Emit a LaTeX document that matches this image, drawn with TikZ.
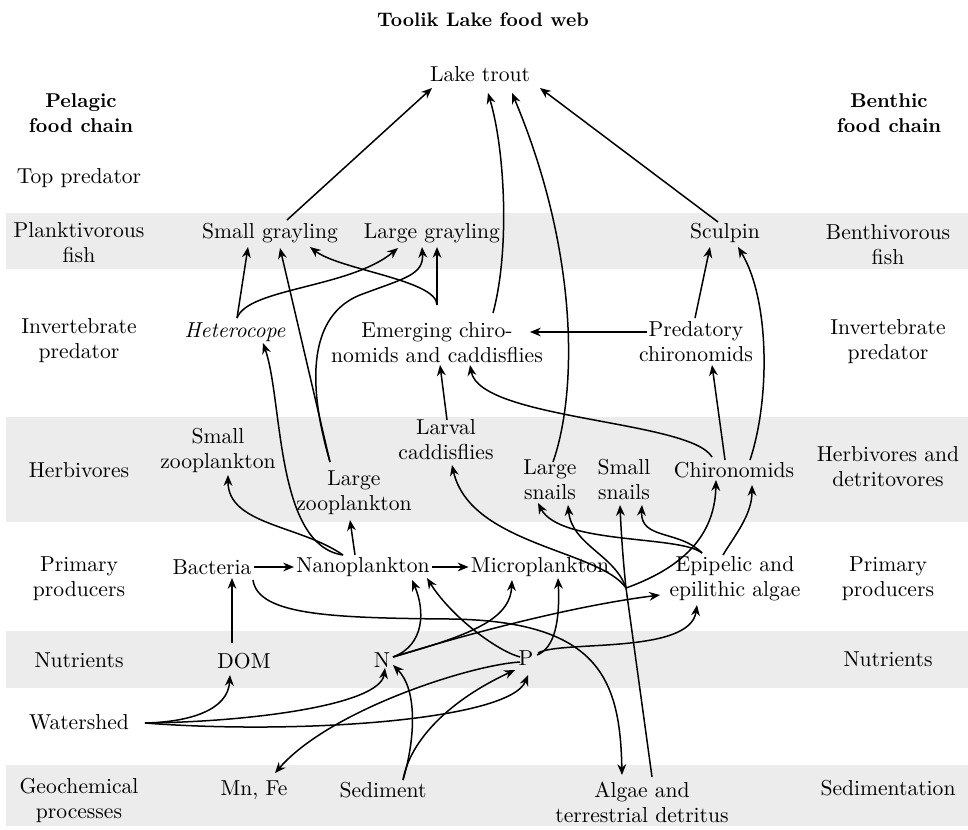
\documentclass[tikz,border=0pt]{standalone}
\usetikzlibrary{arrows.meta,calc}
\definecolor{bandgray}{HTML}{ECECEC}

\begin{document}
\begin{tikzpicture}[x=0.5pt,y=-0.5pt,
  txt/.style={font=\fontsize{10.8}{12.5}\selectfont,align=center,inner sep=1pt},
  head/.style={txt,font=\fontsize{10}{12.5}\selectfont\bfseries},
  arr/.style={line width=0.75pt,-{Stealth[length=5.4pt,width=4.4pt]}},
  trunk/.style={line width=0.75pt}]

	\useasboundingbox (0,0) rectangle (968,829);

	% Bands
	\fill[bandgray] (6,213) rectangle (968,269);
	\fill[bandgray] (6,417) rectangle (968,522);
	\fill[bandgray] (6,631) rectangle (968,688);
	\fill[bandgray] (6,765) rectangle (968,826);

	% Title
	\node[head,font=\fontsize{9.8}{12}\selectfont\bfseries] (title) at (483,20) {Toolik Lake food web};

	% Row labels
	% left
	\node[head] (pelagic) at (81,113) {Pelagic\\food chain};
	\node[txt] (topL) at (79,178) {Top predator};
	\node[txt] (plankL) at (79,243) {Planktivorous\\fish};
	\node[txt] (invL) at (79,341) {Invertebrate\\predator};
	\node[txt] (herbL) at (79,470) {Herbivores};
	\node[txt] (primL) at (79,579) {Primary\\producers};
	\node[txt] (nutL) at (79,660) {Nutrients};
	\node[txt] (water) at (79,722) {Watershed};
	\node[txt] (geoL) at (79,800) {Geochemical\\processes};
	% right
	\node[head] (benthic) at (889,113) {Benthic\\food chain};
	\node[txt] (benthR) at (888,245) {Benthivorous\\fish};
	\node[txt] (invR) at (888,342) {Invertebrate\\predator};
	\node[txt] (herbR) at (888,467) {Herbivores and\\detritovores};
	\node[txt] (primR) at (888,579) {Primary\\producers};
	\node[txt] (nutR) at (888,659) {Nutrients};
	\node[txt] (sedR) at (888,788) {Sedimentation};

	% Species
	\node[txt] (trout) at (480,74) {Lake trout};
	\node[txt] (sgray) at (270,233) {Small grayling};
	\node[txt] (lgray) at (432,233) {Large grayling};
	\node[txt] (sculpin) at (725,233) {Sculpin};
	\node[txt,font=\fontsize{10.8}{12.5}\selectfont\itshape] (hetero) at (235,332) {Heterocope};
	\node[txt] (emerg) at (437,343) {Emerging chiro-\\nomids and caddisflies};
	\node[txt] (predch) at (696,342) {Predatory\\chironomids};
	\node[txt] (szoo) at (218,450) {Small\\zooplankton};
	\node[txt] (lzoo) at (354,493) {Large\\zooplankton};
	\node[txt] (larval) at (446,440) {Larval\\caddisflies};
	\node[txt] (lsnail) at (550,480) {Large\\snails};
	\node[txt] (ssnail) at (624,479) {Small\\snails};
	\node[txt] (chiro) at (734,470) {Chironomids};
	\node[txt] (bact) at (212,567) {Bacteria};
	\node[txt] (nano) at (363,567) {Nanoplankton};
	\node[txt] (micro) at (540,567) {Microplankton};
	\node[txt] (epi) at (735,579) {Epipelic and\\epilithic algae};
	\node[txt] (dom) at (244,661) {DOM};
	\node[txt] (N) at (382,660) {N};
	\node[txt] (P) at (526,658) {P};
	\node[txt] (mnfe) at (254,790) {Mn, Fe};
	\node[txt] (sedim) at (383,790) {Sediment};
	\node[txt] (algae) at (642,802) {Algae and\\terrestrial detritus};
	\coordinate (junc) at (626,588);

	% Fish to lake trout
	\draw[arr] ($(sgray)+(17,-13)$) -- ($(trout)+(-48,14)$);
	\draw[arr] ($(emerg)+(56,-30)$) .. controls (510,250) and (505,150) .. ($(trout)+(8,19)$);
	\draw[arr] ($(lsnail)+(3,-18)$) .. controls (578,390) and (578,250) .. ($(trout)+(32,19)$);
	\draw[arr] ($(sculpin)+(-7,-11)$) -- ($(trout)+(60,14)$);

	% Invertebrates to fish
	\draw[arr] ($(hetero)+(2,-14)$) -- ($(sgray)+(-22,14)$);
	\draw[arr] ($(hetero)+(2,-14)$) .. controls (248,288) and (350,288) .. ($(lgray)+(-34,15)$);
	\draw[arr] ($(lzoo)+(-24,-31)$) -- ($(sgray)+(10,15)$);
	\draw[arr] ($(lzoo)+(-24,-31)$) .. controls (306,380) and (310,315) .. (360,295)
		.. controls (405,278) and (424,275) .. ($(lgray)+(-10,14)$);
	\draw[arr] ($(emerg)+(0,-38)$) .. controls (437,280) and (340,270) .. ($(sgray)+(40,14)$);
	\draw[arr] ($(emerg)+(0,-38)$) -- ($(lgray)+(5,14)$);
	\draw[arr] ($(predch)+(-1,-24)$) -- ($(sculpin)+(-15,14)$);
	\draw[arr] ($(chiro)+(16,-10)$) .. controls (770,400) and (770,300) .. ($(sculpin)+(13,14)$);

	% Among invertebrates
	\draw[arr] ($(predch)+(-49,-10)$) -- ($(emerg)+(93,-11)$);
	\draw[arr] ($(chiro)+(-9,-10)$) -- ($(predch)+(16,23)$);
	\draw[arr] ($(chiro)+(-22,-13)$) .. controls (690,420) and (480,420) .. ($(emerg)+(33,22)$);
	\draw[arr] ($(larval)+(1,-20)$) -- ($(emerg)+(3,22)$);

	% Plankton
	\draw[arr] ($(nano)+(-20,-12)$) .. controls (275,545) and (283,400) .. ($(hetero)+(28,11)$);
	\draw[arr] ($(nano)+(-20,-12)$) .. controls (300,525) and (228,525) .. ($(szoo)+(10,25)$);
	\draw[arr] ($(nano)+(-8,-12)$) -- ($(lzoo)+(-4,27)$);
	\draw[arr] (bact.east) -- (nano.west);
	\draw[arr] (nano.east) -- (micro.west);
	\draw[arr] ($(dom)+(-12,-18)$) -- ($(bact)+(20,11)$);
	\draw[arr] ($(bact)+(41,13)$) .. controls (258,615) and (330,618) .. (450,619)
		.. controls (600,621) and (620,680) .. ($(algae)+(-20,-27)$);

	% Detritus to herbivores
	\draw[trunk] ($(algae)+(10,-25)$) -- (junc);
	\draw[arr] (junc) .. controls (600,550) and (470,545) .. ($(larval)+(6,25)$);
	\draw[arr] (junc) .. controls (615,555) and (572,545) .. ($(lsnail)+(18,25)$);
	\draw[arr] (junc) .. controls (623,560) and (621,530) .. ($(ssnail)+(-4,26)$);
	\draw[arr] (junc) .. controls (690,565) and (715,530) .. ($(chiro)+(-18,10)$);

	% Algae to herbivores
	\draw[arr] ($(epi)+(-33,-26)$) .. controls (680,535) and (560,545) .. ($(lsnail)+(-12,23)$);
	\draw[arr] ($(epi)+(-33,-26)$) .. controls (680,530) and (640,540) .. ($(ssnail)+(18,26)$);
	\draw[arr] ($(epi)+(-12,-24)$) .. controls (735,535) and (752,515) .. ($(chiro)+(18,15)$);

	% Nutrients
	\draw[arr] ($(N)+(11,-3)$) .. controls (425,645) and (425,610) .. ($(nano)+(49,13)$);
	\draw[arr] ($(N)+(11,-3)$) .. controls (470,635) and (510,620) .. ($(micro)+(-28,13)$);
	\draw[arr] ($(N)+(11,-3)$) .. controls (480,630) and (580,605) .. ($(epi)+(-75,16)$);
	\draw[arr] ($(P)+(-6,-1)$) .. controls (495,650) and (450,615) .. ($(nano)+(64,11)$);
	\draw[arr] ($(P)+(11,-3)$) .. controls (555,648) and (560,620) .. ($(micro)+(18,11)$);
	\draw[arr] ($(P)+(12,-5)$) .. controls (560,640) and (690,655) .. ($(epi)+(-38,26)$);
	\draw[arr] ($(P)+(-6,4)$) .. controls (470,665) and (330,710) .. ($(mnfe)+(21,-17)$);

	% Inputs
	\draw[arr] ($(sedim)+(20,-10)$) .. controls (415,740) and (418,690) .. ($(N)+(11,5)$);
	\draw[arr] ($(sedim)+(20,-10)$) .. controls (410,740) and (450,700) .. ($(P)+(-11,12)$);
	\draw[arr] ($(water)+(66,1)$) .. controls (190,722) and (228,710) .. ($(dom)+(-14,14)$);
	\draw[arr] ($(water)+(66,1)$) .. controls (250,722) and (380,705) .. ($(N)+(3,8)$);
	\draw[arr] ($(water)+(66,1)$) .. controls (300,735) and (510,720) .. ($(P)+(2,17)$);

\end{tikzpicture}
\end{document}
